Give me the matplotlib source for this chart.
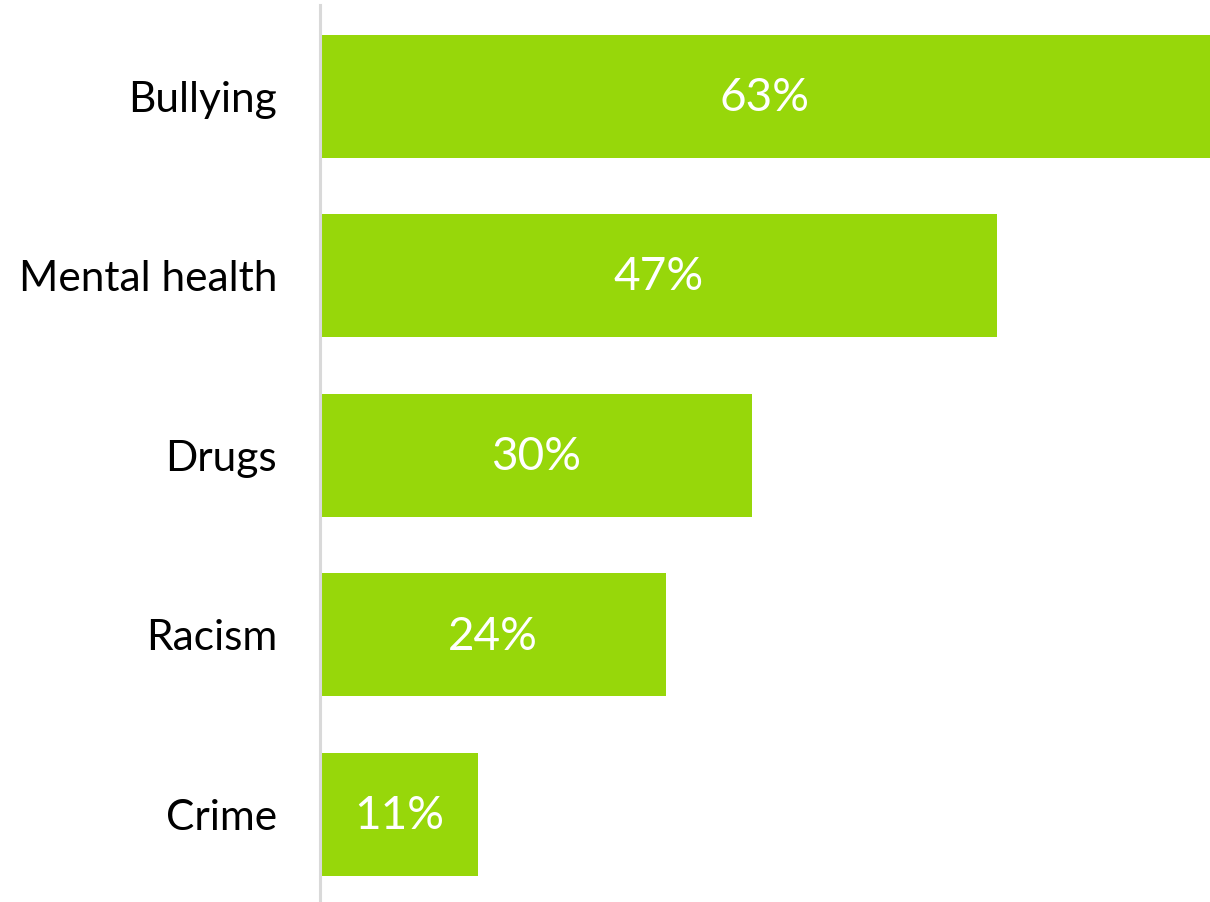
import matplotlib.pyplot as plt

categories = ['Bullying', 'Mental health', 'Drugs', 'Racism', 'Crime']
values = [63, 47, 30, 24, 11]
labels = ['63%', '47%', '30%', '24%', '11%']

plt.rcParams['font.family'] = ['Lato', 'DejaVu Sans']

fig = plt.figure(figsize=(12.1, 9.02), dpi=100)
ax = fig.add_axes([320 / 1210, 0, 1 - 320 / 1210, 1 - 5 / 902])

pos = list(range(len(categories)))
ax.barh(pos, values, height=0.685, color='#97d70a')

xmax = 61.8
ax.set_xlim(0, xmax)
ax.set_ylim(4.487, -0.507)

# value labels, centred on the visible part of each bar
for p, v, lab in zip(pos, values, labels):
    ax.text(min(v, xmax) / 2, p + 0.01, lab, ha='center', va='center',
            color='white', fontsize=33)

ax.set_yticks(pos)
ax.set_yticklabels(categories, fontsize=30.5)
ax.tick_params(axis='y', length=0, pad=31)
ax.set_xticks([])
for s in ['top', 'right', 'bottom']:
    ax.spines[s].set_visible(False)
ax.spines['left'].set_color('#d9d9d9')
ax.spines['left'].set_linewidth(2.2)

fig.savefig('out.png', dpi=100)
